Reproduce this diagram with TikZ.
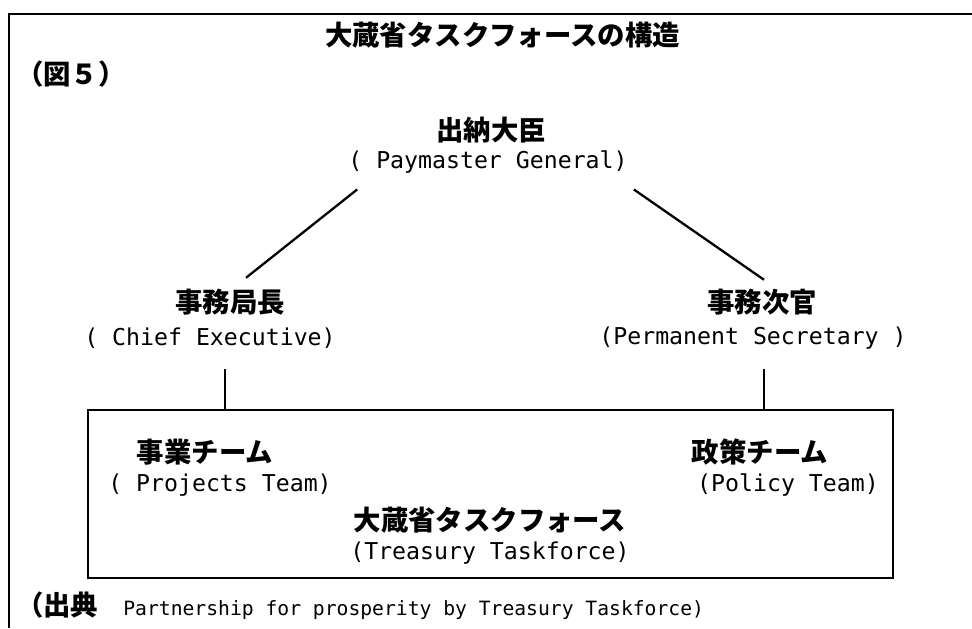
\documentclass[tikz,border=0pt]{standalone}
\usepackage{fontspec}
\newfontfamily\jfont{Noto Sans CJK JP}
\newfontfamily\efont{DejaVu Sans Mono}
\usetikzlibrary{calc}

\begin{document}
\begin{tikzpicture}[
		jp/.style={inner sep=0pt, font=\jfont\bfseries\fontsize{15.6}{18}\selectfont},
		en/.style={inner sep=0pt, font=\efont\fontsize{13.2}{16}\selectfont},
		line width=1.3pt]
		\useasboundingbox (0,0) rectangle (19.44,-12.56);
		\draw (19.44,-0.28) -| (0.18,-12.56);
%
		\node[jp] (title) at (10.05,-0.7) {大蔵省タスクフォースの構造};
		\node[jp, anchor=west] (fig) at (0.3,-1.48) {（図５）};
		\node[jp] (PGjp) at (9.82,-2.6) {出納大臣};
		\node[en] (PGen) at (9.76,-3.24) {( Paymaster General)};
		\node[jp] (CEjp) at (4.6,-6.04) {事務局長};
		\node[en] (CEen) at (4.2,-6.76) {( Chief Executive)};
		\node[jp] (PSjp) at (15.24,-6.04) {事務次官};
		\node[en] (PSen) at (15.06,-6.76) {(Permanent Secretary )};
		\node[draw, minimum width=16.1cm, minimum height=3.36cm] (TF) at (9.81,-9.88) {};
		\node[jp] (PjTjp) at (4.1,-9.04) {事業チーム};
		\node[en] (PjTen) at (4.4,-9.7) {( Projects Team)};
		\node[jp] (PoTjp) at (15.2,-9.04) {政策チーム};
		\node[en] (PoTen) at (15.76,-9.7) {(Policy Team)};
		\node[jp] (TTjp) at (9.8,-10.4) {大蔵省タスクフォース};
		\node[en] (TTen) at (9.8,-11.06) {(Treasury Taskforce)};
		\node[anchor=west, inner sep=0pt] (src) at (0.3,-12.12)
			{\jfont\bfseries\fontsize{15.6}{18}\selectfont（出典\hspace{0.5cm}\efont\mdseries\fontsize{11.2}{13}\selectfont Partnership for prosperity by Treasury Taskforce)};
%
		\path
			($(PGen.south west) + (0.2,-0.3)$) edge ($(CEjp.north) + (0.32,0.2)$)
			($(PGen.south east) + (0.1,-0.3)$) edge ($(PSjp.north) + (0.04,0.16)$);
		\path
			($(TF.north -| CEjp.south) + (-0.1,0.8)$) edge ($(TF.north -| CEjp.south) + (-0.1,0)$)
			($(TF.north -| PSjp.south) + (0.04,0.8)$) edge ($(TF.north -| PSjp.south) + (0.04,0)$);
	\end{tikzpicture}
\end{document}
